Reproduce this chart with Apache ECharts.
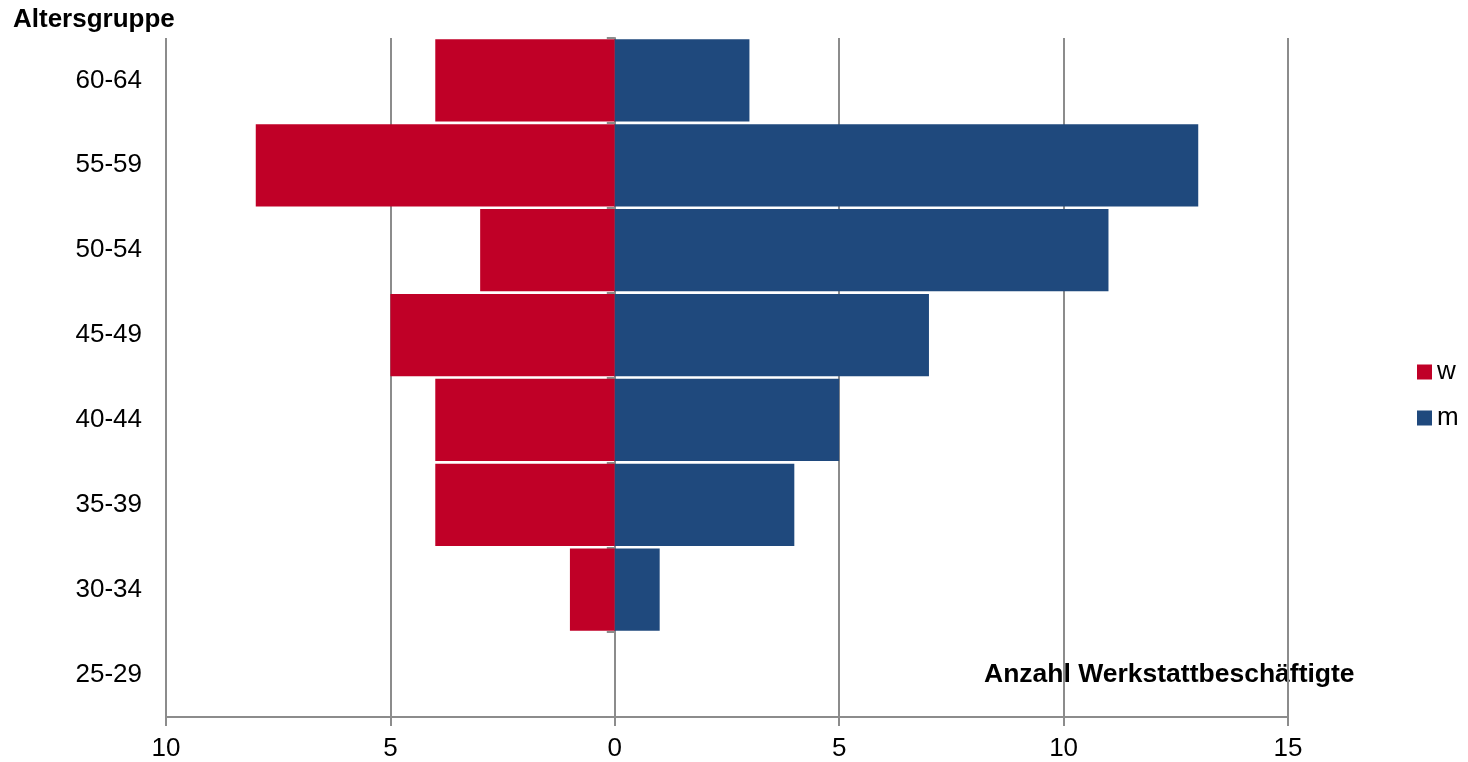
<!DOCTYPE html>
<html>
<head>
<meta charset="utf-8">
<script src="https://cdn.jsdelivr.net/npm/echarts@6/dist/echarts.min.js"></script>
<style>html,body{margin:0;padding:0;background:#fff}#c{width:1468px;height:762px}</style>
</head>
<body>
<div id="c"></div>
<script>
const categories = ['25-29', '30-34', '35-39', '40-44', '45-49', '50-54', '55-59', '60-64'];
const womenValues = [0, 1, 4, 4, 5, 3, 8, 4];
const menValues = [0, 1, 4, 5, 7, 11, 13, 3];
const xTicks = [-10, -5, 0, 5, 10, 15];

const chart = echarts.init(document.getElementById('c'));
const font = 'Liberation Sans, Arial, sans-serif';
chart.setOption({
  animation: false,
  textStyle: { fontFamily: font },
  grid: { left: 166, right: 180, top: 38, bottom: 45 },
  legend: {
    orient: 'vertical', left: 1412, top: 354, itemWidth: 15, itemHeight: 15, itemGap: 20,
    icon: 'rect',
    textStyle: { fontSize: 26, color: '#000', fontFamily: font },
    data: ['w', 'm']
  },
  xAxis: {
    type: 'value', min: xTicks[0], max: xTicks[xTicks.length - 1], interval: 5,
    axisLine: { show: true, lineStyle: { color: '#8c8c8c', width: 2 } },
    axisTick: { show: true, length: 9, lineStyle: { color: '#8c8c8c', width: 2 } },
    axisLabel: { fontSize: 26, color: '#000', margin: 19, formatter: v => String(Math.abs(v)) },
    splitLine: { show: true, lineStyle: { color: '#8c8c8c', width: 2 } }
  },
  yAxis: [
    {
      type: 'category', data: categories, position: 'left',
      axisLine: { show: false, onZero: false }, axisTick: { show: false },
      axisLabel: { fontSize: 26, color: '#000', margin: 24 }
    },
    {
      type: 'category', data: categories, position: 'left',
      axisLine: { show: true, onZero: true, lineStyle: { color: '#8c8c8c', width: 2 } },
      axisTick: { show: true, length: 8, lineStyle: { color: '#8c8c8c', width: 2 } },
      axisLabel: { show: false }
    }
  ],
  graphic: [
    { type: 'text', left: 13, top: 7, style: { text: 'Altersgruppe', font: 'bold 26px ' + font, fill: '#000' } },
    { type: 'text', left: 984, top: 661, style: { text: 'Anzahl Werkstattbeschäftigte', font: 'bold 26.5px ' + font, fill: '#000' } }
  ],
  series: [
    {
      name: 'w', type: 'bar', stack: 'total', yAxisIndex: 0, barCategoryGap: '3%',
      itemStyle: { color: '#C00027' },
      data: womenValues.map(v => -v)
    },
    {
      name: 'm', type: 'bar', stack: 'total', yAxisIndex: 0, barCategoryGap: '3%',
      itemStyle: { color: '#1F497D' },
      data: menValues
    }
  ]
});
</script>
</body>
</html>
